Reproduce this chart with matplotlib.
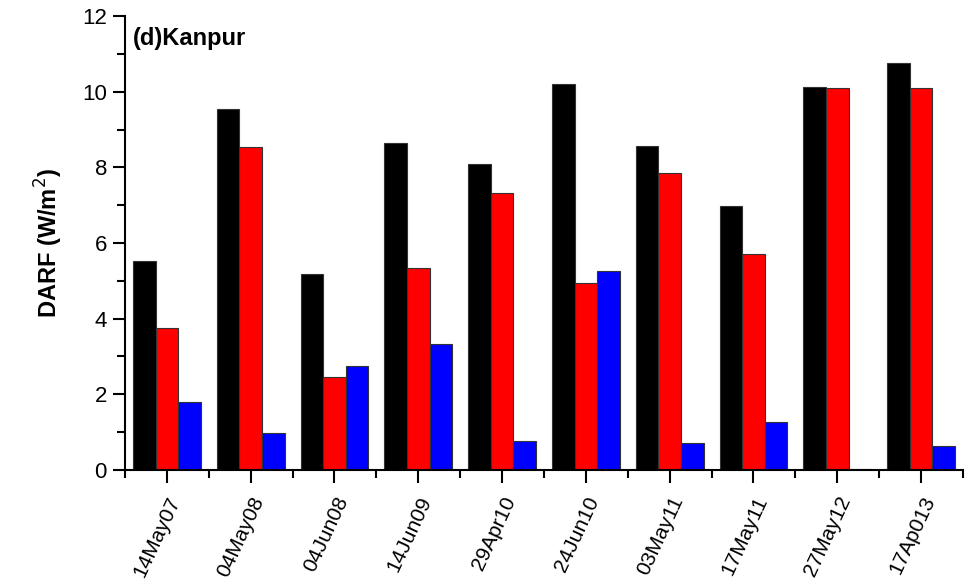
import matplotlib.pyplot as plt
import numpy as np
from matplotlib.ticker import MultipleLocator, FixedLocator

plt.rcParams['font.family'] = ['Liberation Sans', 'DejaVu Sans']

dates = ["14May07", "04May08", "04Jun08", "14Jun09", "29Apr10",
         "24Jun10", "03May11", "17May11", "27May12", "17Ap013"]
black_vals = [5.52, 9.54, 5.18, 8.64, 8.09, 10.20, 8.56, 6.98, 10.12, 10.76]
red_vals = [3.75, 8.54, 2.46, 5.34, 7.32, 4.94, 7.85, 5.71, 10.10, 10.10]
blue_vals = [1.80, 0.98, 2.75, 3.33, 0.77, 5.26, 0.71, 1.27, 0.02, 0.64]

fig = plt.figure(figsize=(9.71, 5.85), dpi=100)
ax = fig.add_axes([0.1287, 0.1966, 0.863, 0.776])

x = np.arange(len(dates))
w = 0.27
ax.bar(x - w, black_vals, w, color="black", edgecolor="#333333", linewidth=0.8)
ax.bar(x, red_vals, w, color="red", edgecolor="#333333", linewidth=0.8)
ax.bar(x + w, blue_vals, w, color="blue", edgecolor="#333333", linewidth=0.8)

ax.set_xlim(-0.5, len(dates) - 0.5)
ax.set_ylim(0, 12)
ax.spines["top"].set_visible(False)
ax.spines["right"].set_visible(False)
for s in ["left", "bottom"]:
    ax.spines[s].set_linewidth(1.5)

ax.yaxis.set_major_locator(MultipleLocator(2))
ax.yaxis.set_minor_locator(MultipleLocator(1))
ax.set_xticks(x)
ax.set_xticklabels(dates, rotation=65, ha="right", rotation_mode="anchor", fontsize=15)
ax.xaxis.set_minor_locator(FixedLocator(np.arange(-0.5, len(dates), 1.0)))
ax.tick_params(which="major", direction="out", length=9, width=1.5)
ax.tick_params(which="minor", direction="out", length=6, width=1.5)
ax.tick_params(axis="y", which="major", labelsize=16, pad=4)
ax.tick_params(axis="x", which="major", pad=8)

ax.set_ylabel("DARF (W/m$^2$)", fontsize=17, fontweight="bold", labelpad=12)
ax.text(0.01, 0.975, "(d)Kanpur", transform=ax.transAxes, fontsize=17,
        fontweight="bold", va="top", ha="left")

fig.savefig("out.png", dpi=100)
